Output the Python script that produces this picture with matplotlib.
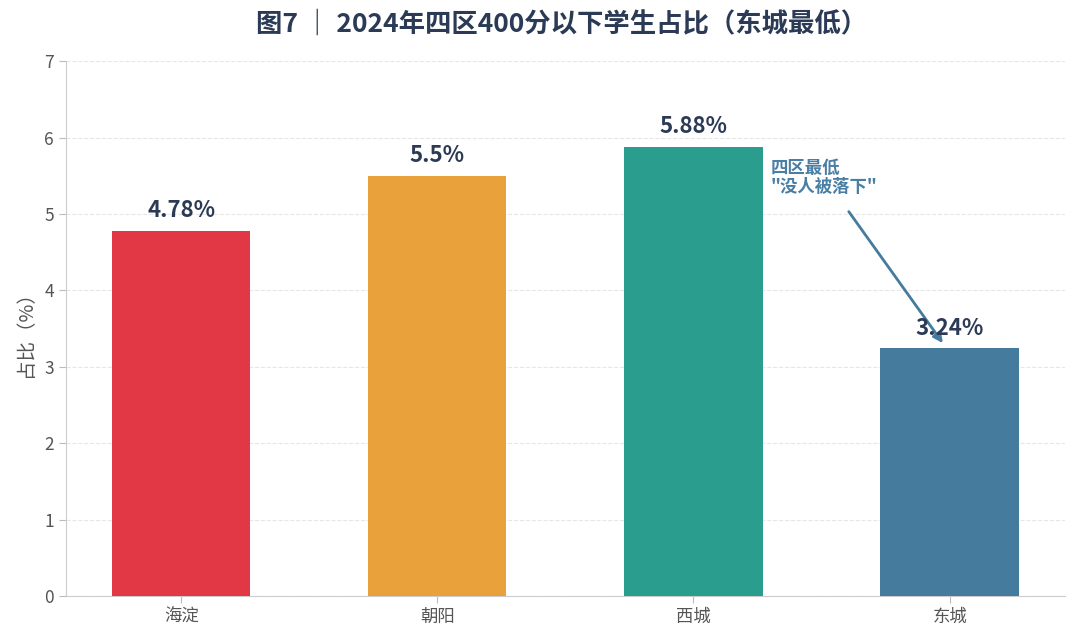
import matplotlib
matplotlib.use("Agg")
import matplotlib.pyplot as plt

plt.rcParams['font.family'] = ['Noto Sans CJK SC', 'DejaVu Sans']

districts = ["海淀", "朝阳", "西城", "东城"]
values = [4.78, 5.5, 5.88, 3.24]
labels = ["4.78%", "5.5%", "5.88%", "3.24%"]
colors = ["#E23744", "#E9A23B", "#2A9D8F", "#457B9D"]
yticks = [0, 1, 2, 3, 4, 5, 6, 7]

fig = plt.figure(figsize=(10.8, 6.43), dpi=100)
ax = fig.add_axes([0.061, 0.073, 0.925, 0.832])

x = list(range(len(districts)))
ax.bar(x, values, width=0.54, color=colors, zorder=3)
for xi, v, lab in zip(x, values, labels):
    ax.text(xi, v + 0.11, lab, ha="center", va="bottom", fontsize=16,
            fontweight="bold", color="#2B3A55", zorder=4)

ax.set_xlim(-0.45, 3.45)
ax.set_ylim(0, 7)
ax.set_yticks(yticks)
ax.set_xticks(x)
ax.set_xticklabels(districts)
ax.tick_params(axis="both", labelsize=12.5, length=5, width=0.8,
               colors="#BBBBBB", labelcolor="#555555")
ax.set_ylabel("占比（%）", fontsize=14, color="#555555", labelpad=6)
ax.grid(axis="y", linestyle="--", color="#E6E6E6", linewidth=0.8, zorder=0)
for s in ["top", "right"]:
    ax.spines[s].set_visible(False)
for s in ["left", "bottom"]:
    ax.spines[s].set_color("#CCCCCC")

ax.annotate("四区最低\n\"没人被落下\"", xy=(2.98, 3.28), xytext=(2.30, 5.72),
            textcoords="data", ha="left", va="top", fontsize=12.5,
            fontweight="bold", color="#4A7FA5", linespacing=1.1)
ax.annotate("", xy=(2.98, 3.28), xytext=(2.60, 5.06),
            arrowprops=dict(arrowstyle="-|>", color="#457B9D", lw=2,
                            mutation_scale=14))

fig.text(0.52, 0.962, "图7 ｜ 2024年四区400分以下学生占比（东城最低）",
         ha="center", va="center", fontsize=19, fontweight="bold",
         color="#2B3A55")

fig.savefig("out.png", dpi=100)
